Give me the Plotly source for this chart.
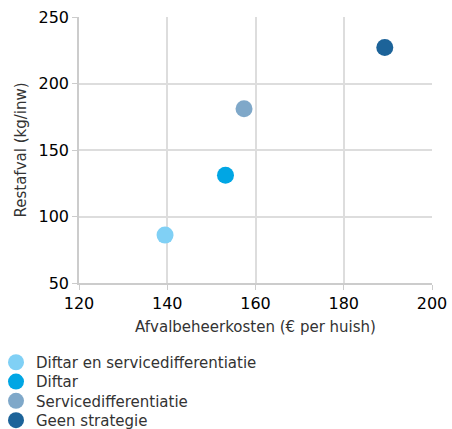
import plotly.graph_objects as go

series = ["Diftar en servicedifferentiatie", "Diftar", "Servicedifferentiatie", "Geen strategie"]
kosten = [139.5, 153.2, 157.4, 189.3]
restafval = [86, 131, 181, 227]
colors = ["#80d0f5", "#00a6e4", "#7fa8c9", "#1c6399"]

x_ticks = [120, 140, 160, 180, 200]
y_ticks = [50, 100, 150, 200, 250]

font = "DejaVu Sans, Verdana, sans-serif"
W, H = 452, 429
ML, MR, MT, MB = 79, 20, 17, 146
plot_w = W - ML - MR
plot_h = H - MT - MB
plot_bottom = H - MB

fig = go.Figure()
legend_layout = {}
for i, (name, xv, yv, c) in enumerate(zip(series, kosten, restafval, colors)):
    key = "legend" if i == 0 else f"legend{i + 1}"
    fig.add_trace(go.Scatter(x=[xv], y=[yv], mode="markers", name=name, legend=key,
                             marker=dict(size=17, color=c, line=dict(width=0))))
    top_px = 346 + i * 19.3
    legend_layout[key] = dict(orientation="v", x=-83 / plot_w, xanchor="left",
                              y=(plot_bottom - top_px) / plot_h, yanchor="top",
                              font=dict(size=15, color="#333"), itemsizing="trace",
                              itemwidth=30, bgcolor="rgba(0,0,0,0)")

fig.update_layout(
    width=W, height=H,
    margin=dict(l=ML, r=MR, t=MT, b=MB, autoexpand=False),
    plot_bgcolor="white", paper_bgcolor="white",
    font=dict(family=font, color="#000"),
    showlegend=True,
    xaxis=dict(range=[120, 200], tickvals=x_ticks, showgrid=True, gridcolor="#ddd", gridwidth=1.5,
               showline=True, linecolor="#ccc", linewidth=1.5, ticks="outside", ticklen=5,
               tickcolor="#ccc", tickfont=dict(size=16, color="#000"), zeroline=False, automargin=False,
               ticklabeloverflow="allow",
               title=dict(text="Afvalbeheerkosten (€ per huish)", font=dict(size=15, color="#333"), standoff=10)),
    yaxis=dict(range=[50, 250], tickvals=y_ticks, showgrid=True, gridcolor="#ddd", gridwidth=1.5,
               showline=True, linecolor="#ccc", linewidth=1.5, ticks="outside", ticklen=5,
               tickcolor="#ccc", tickfont=dict(size=16, color="#000"), zeroline=False, automargin=False,
               ticklabeloverflow="allow",
               title=dict(text="Restafval (kg/inw)", font=dict(size=15, color="#333"), standoff=8)),
    **legend_layout,
)
fig.write_html("out.html", config={"displayModeBar": False},
               post_script="document.body.style.margin='0';document.body.style.overflow='hidden';")
